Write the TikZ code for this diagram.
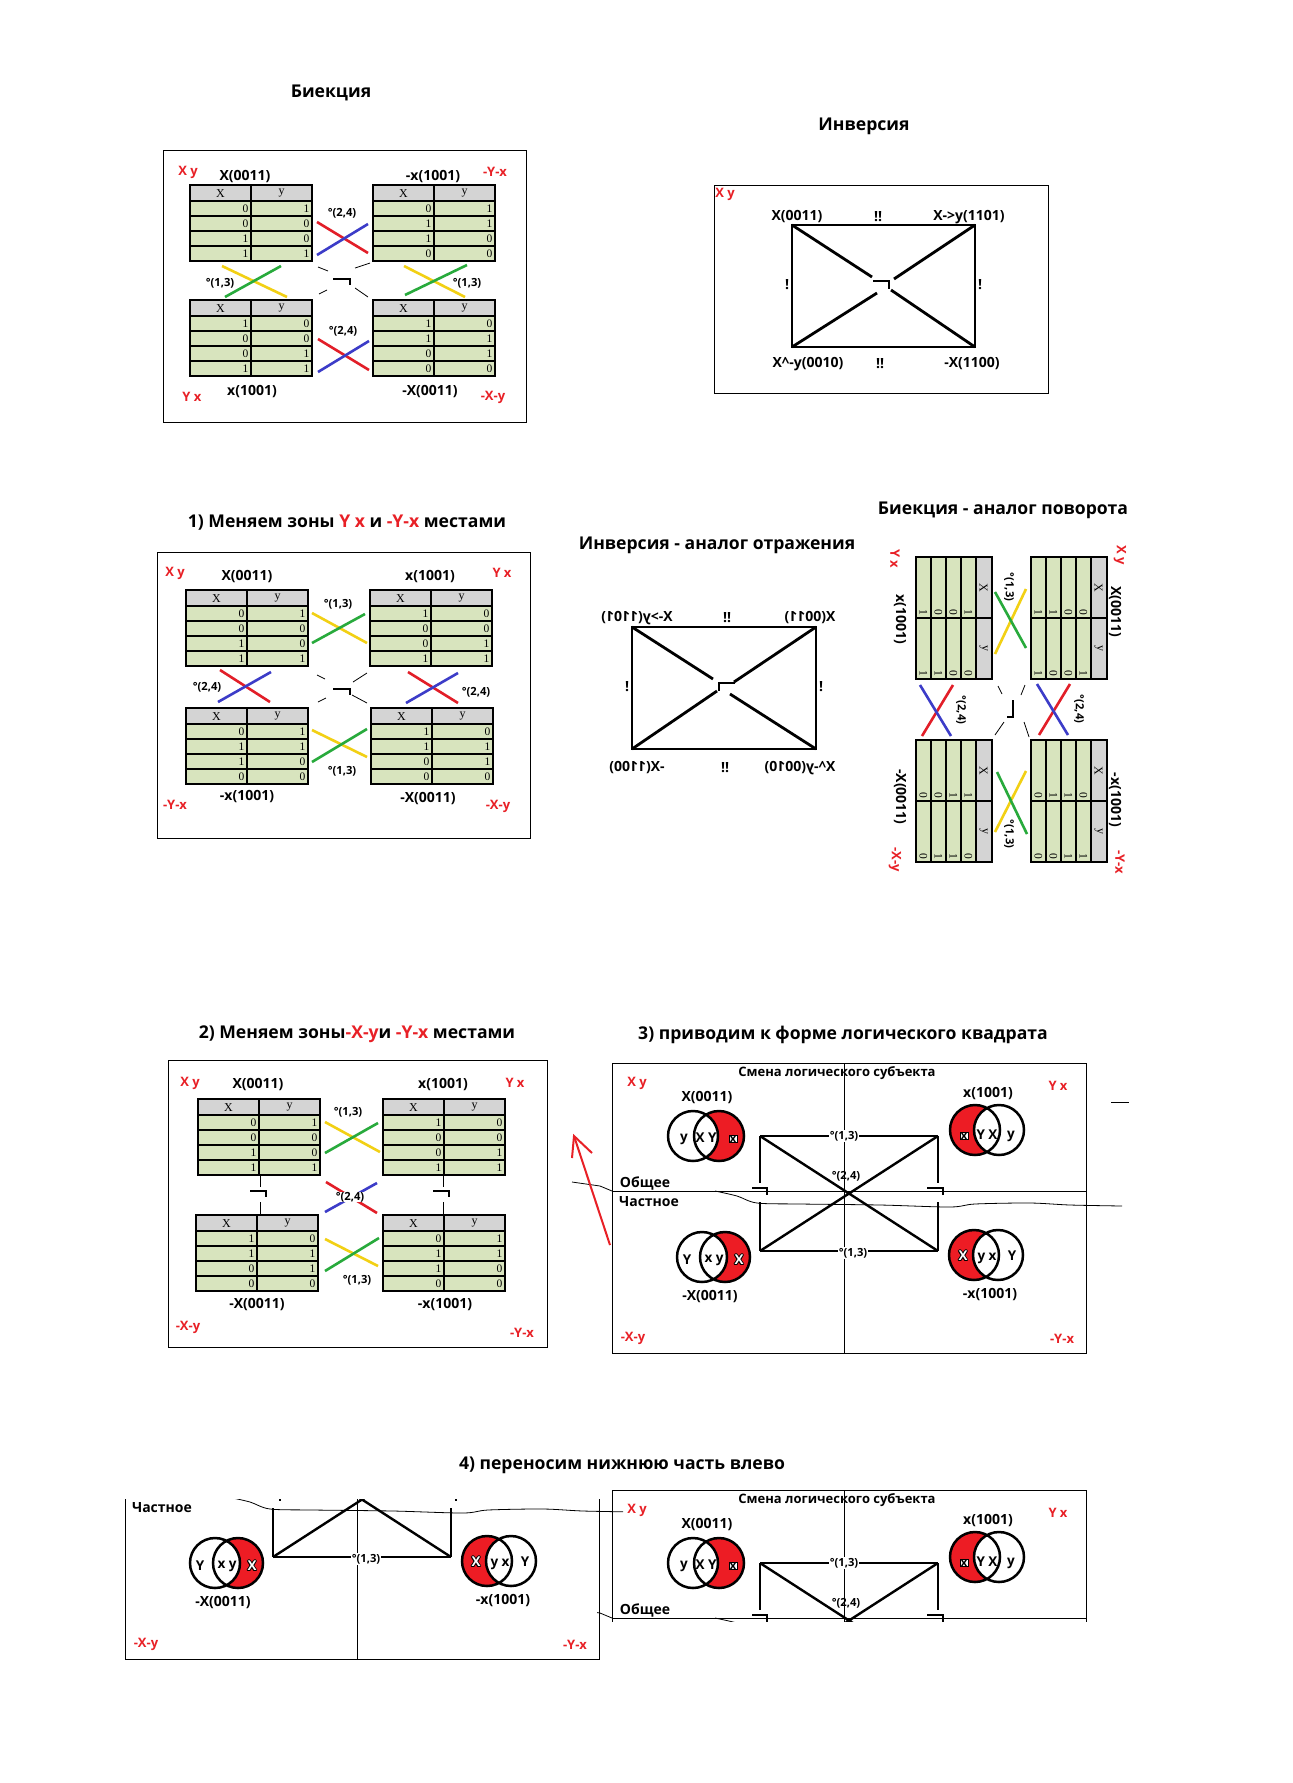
\documentclass[tikz,border=0pt]{standalone}
\usepackage{fontspec}
\usepackage{graphicx}
\setmainfont{Open Sans}
\newfontfamily\tabfont{Liberation Serif}
\usetikzlibrary{calc}
\definecolor{lred}{RGB}{232,32,38}
\definecolor{xred}{RGB}{226,30,40}
\definecolor{xblue}{RGB}{60,60,200}
\definecolor{xyel}{RGB}{242,208,20}
\definecolor{xgrn}{RGB}{40,170,60}
\definecolor{cellg}{RGB}{216,228,190}
\definecolor{hdrg}{RGB}{212,212,212}
\definecolor{vred}{RGB}{237,28,36}
\tikzset{
 lbl/.style={font=\fontsize{14}{16}\selectfont\bfseries, inner sep=0pt},
 rlbl/.style={font=\fontsize{13}{15}\selectfont\bfseries, inner sep=0pt, text=lred},
 sm/.style={font=\fontsize{11.2}{13}\selectfont\bfseries, inner sep=0pt},
 ttl/.style={font=\fontsize{17.6}{20}\selectfont\bfseries, inner sep=0pt},
 vl/.style={font=\fontsize{13.5}{15}\selectfont\bfseries, inner sep=0pt},
 hd/.style={font=\tabfont\fontsize{12}{13}\selectfont, inner sep=0pt},
 val/.style={font=\tabfont\fontsize{11.5}{13}\selectfont, inner sep=0pt, anchor=east},
 frame/.style={draw=black, line width=1pt},
 thinl/.style={line width=1pt},
 hand/.style={line width=0.8pt},
 xl/.style={line width=2.6pt},
 sq/.style={line width=2.8pt},
 neg/.style={line width=2pt},
 frag/.style={line width=0.8pt},
 vline/.style={line width=2.5pt}
}
\newcommand{\ttab}[4]{%
\begin{scope}[shift={(#2,#3)}]
 \fill[hdrg] (0,0) rectangle (122,16);
 \fill[cellg] (0,16) rectangle (122,76);
 \foreach \k in {1,2,3} {\draw[line width=1.1pt] (0,16+15*\k) -- (122,16+15*\k);}
 \draw[line width=2pt] (0,16) -- (122,16);
 \draw[line width=1.8pt] (61,0) -- (61,76);
 \draw[line width=2.4pt] (0,0) rectangle (122,76);
 \node[hd] (#1-hx) at (30.5,8.5) {X};
 \node[hd] (#1-hy) at (91.5,8.5) {y};
 \foreach \a/\b [count=\i] in {#4} {
   \node[val] (#1-a\i) at (58.5,8.5+15*\i) {\a};
   \node[val] (#1-b\i) at (119.5,8.5+15*\i) {\b};
 }
\end{scope}}
\newcommand{\bijbody}{%
 \ttab{tl}{-154}{-96}{0/1,0/0,1/0,1/1}
 \ttab{tr}{29}{-96}{0/1,1/1,1/0,0/0}
 \ttab{bl}{-154}{19}{1/0,0/0,0/1,1/1}
 \ttab{br}{29}{19}{1/0,1/1,0/1,0/0}
 \node[rlbl] (zA) at (-156,-109) {X y};
 \node[lbl] (nA) at (-99,-104) {X(0011)};
 \node[lbl] (nB) at (89,-104) {-x(1001)};
 \node[rlbl] (zB) at (151,-109) {-Y-x};
 \node[rlbl] (zC) at (-152,116) {Y x};
 \node[lbl] (nC) at (-92,111) {x(1001)};
 \node[lbl] (nD) at (86,111) {-X(0011)};
 \node[rlbl] (zD) at (149,116) {-X-y};
 \draw[xl,xred] (-27,-59) -- (24,-28);
 \draw[xl,xblue] (-27,-26) -- (24,-57);
 \node[sm] (d1) at (-2,-68) {°(2,4)};
 \draw[xl,xyel] (-122,-15) -- (-57,16);
 \draw[xl,xgrn] (-119,16) -- (-63,-15);
 \node[sm] (d2) at (-124,2) {°(1,3)};
 \draw[xl,xyel] (60,-15) -- (121,16);
 \draw[xl,xgrn] (61,14) -- (123,-16);
 \node[sm] (d3) at (123,2) {°(1,3)};
 \draw[xl,xred] (-26,58) -- (25,89);
 \draw[xl,xblue] (-26,91) -- (25,60);
 \node[sm] (d4) at (-1,50) {°(2,4)};
 \draw[neg] (-11,-2) -- (6,-2) -- (6,4);
 \draw[frag] (-26,-14) -- (-16,-10) (11,-13) -- (26,-18) (-25,13) -- (-17,9) (11,7) -- (24,16);
}
\newcommand{\vennR}[4]{%
 \fill[vred] (#3,#4) circle[radius=25pt];
 \fill[white] (#2,#4) circle[radius=25pt];
 \draw[vline] (#2,#4) circle[radius=25pt] (#3,#4) circle[radius=25pt];
 \coordinate (#1) at ($(#2,#4)!0.5!(#3,#4)$);}
\newcommand{\vennL}[4]{%
 \fill[vred] (#2,#4) circle[radius=25pt];
 \fill[white] (#3,#4) circle[radius=25pt];
 \draw[vline] (#2,#4) circle[radius=25pt] (#3,#4) circle[radius=25pt];
 \coordinate (#1) at ($(#2,#4)!0.5!(#3,#4)$);}
\newcommand{\olX}[4]{%
 \foreach \dx/\dy [count=\q] in {-0.9/0,0.9/0,0/-0.9,0/0.9,-0.7/-0.7,0.7/0.7,-0.7/0.7,0.7/-0.7} {\node[vl] (#1-o\q) at (#2+\dx,#3+\dy) {#4};}
 \node[vl,text=white] (#1) at (#2,#3) {#4};}
\newcommand{\bxx}[3]{\node[vl,fill=white,draw=black,line width=0.6pt,inner sep=0.7pt,font=\fontsize{11}{12}\selectfont\bfseries] (#1) at (#2,#3) {x};}
\newcommand{\sqbody}{%
 \draw[frame] (612,1063) rectangle (1086,1353);
 \draw[thinl] (844,1063) -- (844,1353);
 \draw[thinl] (612,1191) -- (1086,1191);
 \draw[hand] (572,1182) -- (600,1186) -- (612,1191);
 \draw[hand] plot[smooth] coordinates {(715,1191) (737,1196) (757,1203) (800,1204) (880,1205) (950,1207) (975,1204) (1030,1203) (1070,1205) (1122,1206)};
 \node[lbl,font=\fontsize{13}{15}\selectfont\bfseries] (smena) at (837,1073) {Смена логического субъекта};
 \node[rlbl] (q1) at (637,1083) {X y};
 \node[rlbl] (q2) at (1058,1086) {Y x};
 \node[rlbl] (q3) at (633,1338) {-X-y};
 \node[rlbl] (q4) at (1062,1339) {-Y-x};
 \node[lbl] (m1) at (707,1098) {X(0011)};
 \node[lbl] (m2) at (988,1094) {x(1001)};
 \node[lbl] (m3) at (710,1297) {-X(0011)};
 \node[lbl] (m4) at (990,1295) {-x(1001)};
 \node[lbl] (ob) at (645,1183) {Общее};
 \node[lbl] (ch) at (649,1202) {Частное};
 \vennR{v1}{693}{719}{1136}
 \node[vl] (v1a) at (684,1139) {y};
 \node[vl] (v1b) at (706,1138) {X Y};
 \bxx{v1c}{733}{1139}
 \vennL{v2}{975}{999}{1130}
 \bxx{v2c}{964}{1136}
 \node[vl] (v2b) at (987,1135) {Y X};
 \node[vl] (v2a) at (1011,1136) {y};
 \vennR{v3}{702}{725}{1257}
 \node[vl] (v3a) at (687,1260) {Y};
 \node[vl] (v3b) at (714,1260) {x y};
 \olX{v3c}{739}{1260}{X}
 \vennL{v4}{974}{998}{1255}
 \olX{v4c}{963}{1256}{X}
 \node[vl] (v4b) at (987,1258) {y x};
 \node[vl] (v4a) at (1012,1256) {Y};
 \coordinate (s1) at (760,1136);
 \coordinate (s2) at (938,1136);
 \coordinate (s3) at (760,1251);
 \coordinate (s4) at (938,1251);
 \draw[sq] (s1) -- (s2);
 \draw[sq] (s3) -- (s4);
 \draw[sq] (s1) -- (760,1183) (760,1202) -- (s3);
 \draw[sq] (s2) -- (938,1183) (938,1202) -- (s4);
 \draw[sq,line width=2.4pt] (s1) -- (s4) (s3) -- (s2);
 \node[sm,fill=white,inner sep=1pt] (e1) at (844,1136) {°(1,3)};
 \node[sm,fill=white,inner sep=1pt] (e2) at (853,1253) {°(1,3)};
 \node[sm] (e3) at (846,1176) {°(2,4)};
 \draw[neg] (752,1188) -- (767,1188) -- (767,1195);
 \draw[neg] (927,1188) -- (943,1188) -- (943,1195);
}
\begin{document}
\begin{tikzpicture}[x=1pt,y=-1pt]
\useasboundingbox (0,0) rectangle (1293,1783);
\fill[white] (0,0) rectangle (1293,1783);
% titles
\node[ttl] (t1) at (331,93) {Биекция};
\node[ttl] (t2) at (864,126) {Инверсия};
\node[ttl] (t3) at (347,523) {1) Меняем зоны \textcolor{lred}{Y x} и \textcolor{lred}{-Y-x} местами};
\node[ttl] (t4) at (717,545) {Инверсия - аналог отражения};
\node[ttl] (t5) at (1003,510) {Биекция - аналог поворота};
\node[ttl] (t6) at (357,1034) {2) Меняем зоны\textcolor{lred}{-X-y}и \textcolor{lred}{-Y-x} местами};
\node[ttl] (t7) at (843,1035) {3) приводим к форме логического квадрата};
\node[ttl] (t8) at (622,1465) {4) переносим нижнюю часть влево};
% panel 1
\draw[frame] (163,150) rectangle (526,422);
\begin{scope}[shift={(344,281)},name prefix=pA-]
 \bijbody
\end{scope}
% panel 5 (rotated)
\begin{scope}[shift={(1011,711)},rotate=-90,transform shape,name prefix=pE-]
 \bijbody
\end{scope}
% panel 2
\draw[frame] (714,185) rectangle (1048,393);
\node[rlbl] (p2z) at (725,194) {X y};
\coordinate (p2a) at (792,225);
\coordinate (p2b) at (975,225);
\coordinate (p2c) at (792,347);
\coordinate (p2d) at (975,347);
\draw[sq] (p2a) rectangle (p2d);
\draw[sq] (p2a) -- (872,277) (p2b) -- (894,279) (p2c) -- (877,293) (p2d) -- (891,290);
\draw[neg] (873,281) -- (889,281) -- (889,289);
\node[lbl] (p2l1) at (797,217) {X(0011)};
\node[lbl] (p2l2) at (878,217) {!!};
\node[lbl] (p2l3) at (969,217) {X->y(1101)};
\node[lbl] (p2l4) at (787,285) {!};
\node[lbl] (p2l5) at (980,285) {!};
\node[lbl] (p2l6) at (808,364) {X\textasciicircum -y(0010)};
\node[lbl] (p2l7) at (880,364) {!!};
\node[lbl] (p2l8) at (972,364) {-X(1100)};
% panel 4 (mirrored)
\coordinate (p4a) at (632,627);
\coordinate (p4b) at (816,627);
\coordinate (p4c) at (632,749);
\coordinate (p4d) at (816,749);
\draw[sq] (p4a) rectangle (p4d);
\draw[sq] (p4b) -- (734,682) (p4a) -- (713,679) (p4d) -- (730,694) (p4c) -- (717,691);
\draw[neg] (735,683) -- (719,683) -- (719,691);
\node[lbl] (p4l1) at (637,618) {\reflectbox{X->y(1101)}};
\node[lbl] (p4l2) at (727,618) {!!};
\node[lbl] (p4l3) at (810,618) {\reflectbox{X(0011)}};
\node[lbl] (p4l4) at (627,687) {!};
\node[lbl] (p4l5) at (821,687) {!};
\node[lbl] (p4l6) at (637,768) {\reflectbox{-X(1100)}};
\node[lbl] (p4l7) at (725,768) {!!};
\node[lbl] (p4l8) at (800,768) {\reflectbox{X\textasciicircum -y(0010)}};
% panel 3
\draw[frame] (157,552) rectangle (530,838);
\ttab{p3tl}{186}{590}{0/1,0/0,1/0,1/1}
\ttab{p3tr}{370}{590}{1/0,0/0,0/1,1/1}
\ttab{p3bl}{186}{708}{0/1,1/1,1/0,0/0}
\ttab{p3br}{371}{708}{1/0,1/1,0/1,0/0}
\node[rlbl] (p3z1) at (175,573) {X y};
\node[lbl] (p3n1) at (247,577) {X(0011)};
\node[lbl] (p3n2) at (430,577) {x(1001)};
\node[rlbl] (p3z2) at (502,573) {Y x};
\node[rlbl] (p3z3) at (175,805) {-Y-x};
\node[lbl] (p3n3) at (247,797) {-x(1001)};
\node[lbl] (p3n4) at (428,799) {-X(0011)};
\node[rlbl] (p3z4) at (498,806) {-X-y};
\draw[xl,xyel] (312,613) -- (367,643);
\draw[xl,xgrn] (312,643) -- (365,614);
\node[sm] (p3d1) at (338,604) {°(1,3)};
\draw[xl,xred] (220,670) -- (270,702);
\draw[xl,xblue] (218,702) -- (271,672);
\node[sm] (p3d2) at (207,687) {°(2,4)};
\draw[xl,xred] (408,672) -- (458,703);
\draw[xl,xblue] (406,703) -- (458,673);
\node[sm] (p3d3) at (476,692) {°(2,4)};
\draw[xl,xyel] (312,730) -- (367,757);
\draw[xl,xgrn] (312,762) -- (367,729);
\node[sm] (p3d4) at (342,771) {°(1,3)};
\draw[neg] (333,689) -- (350,689) -- (350,695);
\draw[frag] (317,675) -- (325,679) (353,682) -- (367,673) (318,702) -- (326,698) (352,695) -- (367,703);
% panel 6
\draw[frame] (168,1060) rectangle (547,1347);
\ttab{p6tl}{198}{1099}{0/1,0/0,1/0,1/1}
\ttab{p6tr}{383}{1099}{1/0,0/0,0/1,1/1}
\ttab{p6bl}{196}{1215}{1/0,1/1,0/1,0/0}
\ttab{p6br}{383}{1215}{0/1,1/1,1/0,0/0}
\node[rlbl] (p6z1) at (190,1083) {X y};
\node[lbl] (p6n1) at (258,1085) {X(0011)};
\node[lbl] (p6n2) at (443,1085) {x(1001)};
\node[rlbl] (p6z2) at (515,1083) {Y x};
\node[lbl] (p6n3) at (257,1305) {-X(0011)};
\node[lbl] (p6n4) at (445,1305) {-x(1001)};
\node[rlbl] (p6z3) at (188,1327) {-X-y};
\node[rlbl] (p6z4) at (522,1333) {-Y-x};
\draw[xl,xyel] (325,1122) -- (380,1152);
\draw[xl,xgrn] (325,1153) -- (378,1123);
\node[sm] (p6d1) at (348,1112) {°(1,3)};
\draw[xl,xred] (326,1182) -- (377,1213);
\draw[xl,xblue] (325,1212) -- (377,1183);
\node[sm,fill=white,inner sep=0.5pt] (p6d2) at (350,1197) {°(2,4)};
\draw[xl,xyel] (325,1239) -- (378,1266);
\draw[xl,xgrn] (325,1271) -- (379,1238);
\node[sm] (p6d3) at (357,1280) {°(1,3)};
\draw[thinl] (260,1176) -- (260,1187) (260,1202) -- (260,1215);
\draw[neg] (250,1191) -- (266,1191) -- (266,1197);
\draw[thinl] (443,1176) -- (443,1187) (443,1202) -- (443,1215);
\draw[neg] (433,1191) -- (449,1191) -- (449,1197);
% panel 7
\begin{scope}[name prefix=pG-]
 \sqbody
\end{scope}
\coordinate (arrA) at (610,1245);
\coordinate (arrB) at (574,1136);
\draw[lred,line width=2pt] (arrA) -- (arrB);
\draw[lred,line width=2pt] (572,1158) -- (arrB) -- (592,1153);
\draw[hand] (1111,1102) -- (1129,1102);
% panel 8 right (upper half copy)
\begin{scope}
 \clip (597,1485) rectangle (1100,1621);
 \begin{scope}[shift={(0,427)},name prefix=pH-]
  \sqbody
 \end{scope}
\end{scope}
% panel 8 left (lower half copy)
\begin{scope}
 \clip (118,1499) rectangle (623,1670);
 \begin{scope}[shift={(-487,306)},name prefix=pI-]
  \sqbody
 \end{scope}
\end{scope}
\end{tikzpicture}
\end{document}
